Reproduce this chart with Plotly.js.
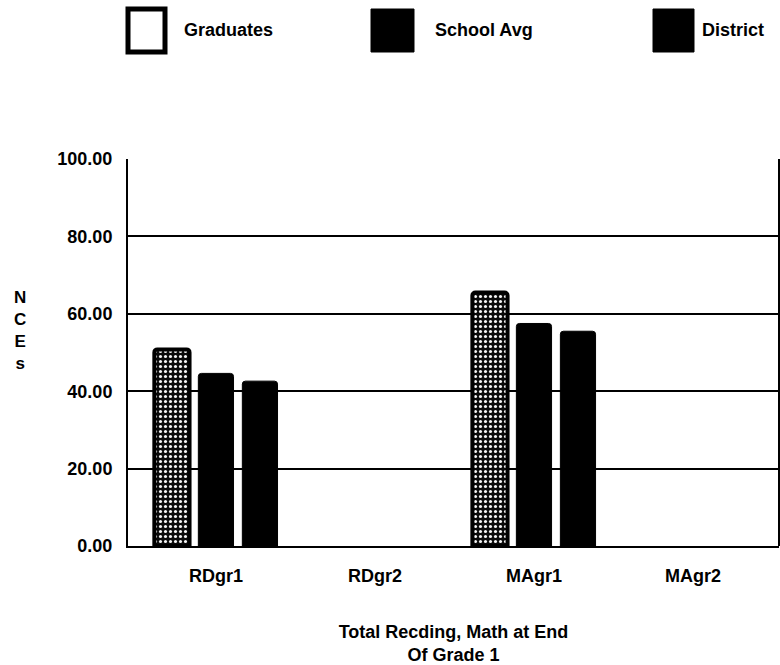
<!DOCTYPE html>
<html>
<head>
<meta charset="utf-8">
<script src="https://cdn.plot.ly/plotly-3.0.1.min.js"></script>
<style>
  html, body { margin: 0; padding: 0; background: #fff; }
  #chart { width: 780px; height: 665px; }
</style>
</head>
<body>
<div id="chart"></div>
<script>
// Test groups on the x axis
const categories = ['RDgr1', 'RDgr2', 'MAgr1', 'MAgr2'];

// Mean NCE scores per group (no scores reported for the grade 2 tests)
const graduates = [50.8, null, 65.5, null];
const schoolAvg = [44.6, null, 57.5, null];
const district  = [42.6, null, 55.5, null];

const seriesNames = ['Graduates', 'School Avg', 'District'];

// Y axis ticks
const yTickVals = [0, 20, 40, 60, 80, 100];
const yTickText = ['0.00', '20.00', '40.00', '60.00', '80.00', '100.00'];

const FONT = 'Liberation Sans, Arial, sans-serif';

// Plot area in pixels (used to place the hand-built legend)
const W = 780, H = 665;
const M = { l: 128, r: 1, t: 159, b: 119 };
const px2x = p => (p - M.l) / (W - M.l - M.r);
const px2y = p => (H - M.b - p) / (H - M.t - M.b);

const traces = [
  {
    type: 'bar', name: seriesNames[0], x: categories, y: graduates,
    marker: {
      color: '#000',
      line: { color: '#000', width: 4 },
      pattern: { shape: '.', fgcolor: '#f4f4f4', bgcolor: '#0a0a0a', size: 5, solidity: 0.3 }
    },
    showlegend: false, hoverinfo: 'skip'
  },
  {
    type: 'bar', name: seriesNames[1], x: categories, y: schoolAvg,
    marker: { color: '#000', line: { color: '#000', width: 1 } },
    showlegend: false, hoverinfo: 'skip'
  },
  {
    type: 'bar', name: seriesNames[2], x: categories, y: district,
    marker: { color: '#000', line: { color: '#000', width: 1 } },
    showlegend: false, hoverinfo: 'skip'
  }
];

// Legend: large swatches with labels across the top
const legendItems = [
  { box: [128, 9, 165, 52], fill: '#fff', lw: 5, tx: 182 },
  { box: [371, 9, 414, 52], fill: '#000', lw: 1, tx: 433 },
  { box: [653, 9, 694, 52], fill: '#000', lw: 1, tx: 700 }
];

const shapes = [
  // right frame edge
  { type: 'line', xref: 'paper', yref: 'paper', x0: 1, x1: 1, y0: 0, y1: 1,
    line: { color: '#000', width: 2 } }
];
const annotations = [];

legendItems.forEach((it, i) => {
  shapes.push({
    type: 'rect', xref: 'paper', yref: 'paper',
    x0: px2x(it.box[0]), x1: px2x(it.box[2]),
    y0: px2y(it.box[3]), y1: px2y(it.box[1]),
    fillcolor: it.fill, line: { color: '#000', width: it.lw }
  });
  annotations.push({
    xref: 'paper', yref: 'paper', x: px2x(it.tx), y: px2y(30),
    xanchor: 'left', yanchor: 'middle', showarrow: false,
    text: seriesNames[i], font: { family: FONT, size: 18, color: '#000', weight: 'bold' }
  });
});

// Vertical stacked y-axis title
annotations.push({
  xref: 'paper', yref: 'paper', x: px2x(20), y: px2y(330),
  xanchor: 'center', yanchor: 'middle', showarrow: false,
  text: 'N<br>C<br>E<br>s', align: 'center',
  font: { family: FONT, size: 17, color: '#000', weight: 'bold' }
});

const layout = {
  width: W, height: H,
  margin: M,
  paper_bgcolor: '#fff', plot_bgcolor: '#fff',
  barmode: 'group', bargap: 0.17, bargroupgap: 0.2,
  barcornerradius: 3,
  font: { family: FONT, color: '#000' },
  xaxis: {
    type: 'category', categoryarray: categories,
    range: [-0.553, 3.541],
    showgrid: false, zeroline: false,
    showline: true, linecolor: '#000', linewidth: 2,
    ticks: '', tickfont: { family: FONT, size: 18, color: '#000', weight: 'bold' },
    ticklabelstandoff: 12,
    title: { text: 'Total Recding, Math at End<br>Of Grade 1', standoff: 42,
             font: { family: FONT, size: 18, color: '#000', weight: 'bold' } }
  },
  yaxis: {
    range: [0, 100], fixedrange: true,
    tickvals: yTickVals, ticktext: yTickText,
    showgrid: true, gridcolor: '#000', gridwidth: 2,
    zeroline: false, showline: true, linecolor: '#000', linewidth: 2,
    ticks: '', ticklabelstandoff: 10,
    tickfont: { family: FONT, size: 18, color: '#000', weight: 'bold' }
  },
  shapes: shapes,
  annotations: annotations
};

Plotly.newPlot('chart', traces, layout, { staticPlot: true });
</script>
</body>
</html>
